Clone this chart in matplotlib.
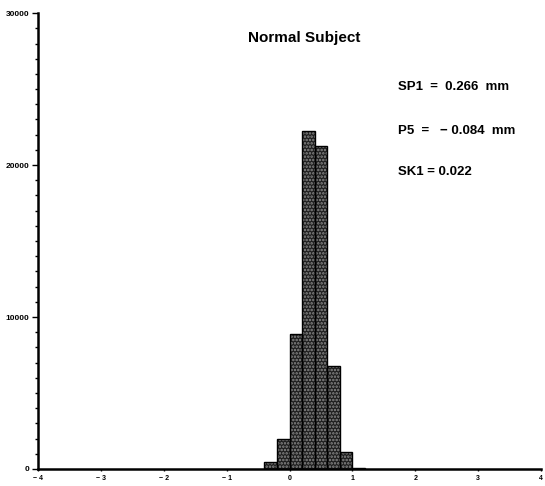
import matplotlib
matplotlib.use("Agg")
import matplotlib.pyplot as plt
from matplotlib.ticker import MultipleLocator

bin_left = [-0.4, -0.2, 0.0, 0.2, 0.4, 0.6, 0.8, 1.0]
counts = [480, 1970, 8880, 22260, 21250, 6780, 1140, 60]
bin_width = 0.2

title = "Normal Subject"
stats = ["SP1  =  0.266  mm", "P5  =   \u2212 0.084  mm", "SK1 = 0.022"]
xticks = [-4, -3, -2, -1, 0, 1, 2, 3, 4]
yticks = [0, 10000, 20000, 30000]

plt.rcParams['font.family'] = ['Liberation Sans', 'DejaVu Sans']
plt.rcParams['hatch.linewidth'] = 1.2
fig = plt.figure(figsize=(5.45, 4.86), dpi=100)
ax = fig.add_axes([0.0697, 0.035, 0.923, 0.938])

ax.bar(bin_left, counts, width=bin_width, align='edge', color='#1e1e1e',
       edgecolor='#8c8c8c', hatch='.....', linewidth=0)
ax.bar(bin_left, counts, width=bin_width, align='edge', fill=False,
       edgecolor='black', linewidth=1.0)

ax.set_xlim(-4, 4)
ax.set_ylim(0, 30000)
ax.spines['top'].set_visible(False)
ax.spines['right'].set_visible(False)
ax.spines['left'].set_linewidth(1.8)
ax.spines['bottom'].set_linewidth(1.8)

ax.set_xticks(xticks)
ax.set_xticklabels([("\u2212 " + str(abs(t))) if t < 0 else str(t) for t in xticks],
                   fontsize=5, fontweight='bold')
ax.set_yticks(yticks)
ax.set_yticklabels([str(t) for t in yticks], fontsize=6, fontweight='bold')
ax.yaxis.set_minor_locator(MultipleLocator(1000))
ax.tick_params(axis='y', which='major', length=4, width=1, pad=2)
ax.tick_params(axis='y', which='minor', length=2.5, width=1)
ax.tick_params(axis='x', which='major', length=1.5, width=1, pad=3)

fig.text(304 / 545, 1 - 38 / 486, title, fontsize=11, fontweight='bold',
         ha='center', va='center')
ys = [87, 131, 172]
for s, y in zip(stats, ys):
    fig.text(398 / 545, 1 - y / 486, s, fontsize=9.5, fontweight='bold',
             ha='left', va='center')

fig.savefig("out.png", dpi=100)
